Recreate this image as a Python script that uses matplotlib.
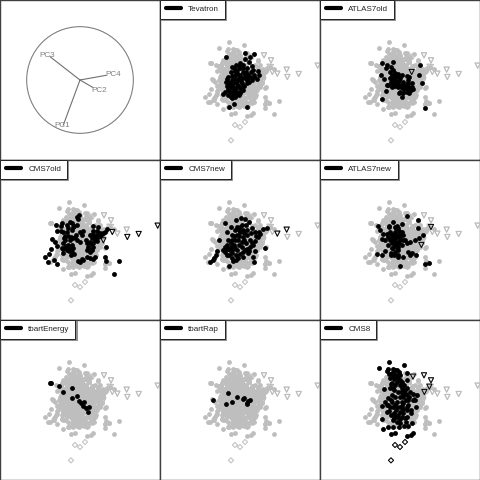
import matplotlib
matplotlib.use("Agg")
import matplotlib.pyplot as plt
from matplotlib.lines import Line2D

plt.rcParams['font.family'] = ['Liberation Sans', 'DejaVu Sans']

tevatron = [(198,172),(255,160),(281,161),(270,170),(255,176),(268,187),(276,197),(240,188),(228,195),(215,200),(250,195),(262,205),(280,210),(293,212),(298,224),(290,236),(275,240),(212,215),(205,230),(198,245),(200,258),(210,265),(196,275),(188,283),(205,285),(215,295),(225,290),(240,280),(250,270),(260,250),(245,250),(235,240),(225,225),(240,225),(230,210),(250,215),(265,225),(220,250),(230,260),(215,240),(245,235),(255,235),(235,255),(222,270),(212,280),(240,265),(225,238),(210,250),(207,320),(222,312),(260,320),(205,245),(218,275),(232,275),(228,285),(250,205),(240,205),(260,240),(270,232),(213,291),
            (222,205),(236,197),(258,215),(272,215),(283,225),(268,245),(252,258),(243,272),(228,248),(218,260),(208,272),(202,238),(216,228),(232,218),(244,242),(226,268),(236,286),(220,283),(254,226),(238,232),(212,258),(226,214),(246,262),(282,232),(204,266),(262,233)]
atlas7old = [(185,190),(200,194),(197,204),(218,186),(212,202),(183,225),(191,238),(210,215),(216,225),(225,225),(235,222),(245,225),(215,240),(200,255),(198,272),(212,255),(225,245),(235,245),(245,255),(225,258),(235,262),(250,265),(262,228),(265,240),(260,252),(250,245),(240,275),(252,268),(265,270),(275,260),(268,278),(262,275),(247,292),(237,280),(185,298),(215,260),(228,232),(240,235),(220,235),(215,248),(230,250),(263,248),(275,250),(296,226),(301,194),(305,248),(315,325),(210,235),(222,252),(238,255),(255,258),(248,280),(272,270),(218,210),(205,255),
             (232,228),(222,240),(238,240),(226,250),(244,260),(212,246),(232,256),(268,262),(258,265),(278,266),(266,232),(224,218)]
cms7old = [(135,292),(145,306),(153,266),(146,281),(170,312),(163,300),(168,194),(185,190),(170,212),(155,237),(164,245),(184,199),(183,213),(200,195),(202,216),(215,190),(210,185),(232,170),(236,165),(220,200),(215,210),(240,215),(250,212),(245,225),(205,228),(192,235),(210,240),(225,230),(190,250),(185,265),(195,262),(205,255),(215,255),(220,265),(200,270),(188,278),(207,272),(195,240),(228,225),(240,245),(258,240),(270,245),(285,240),(295,230),(280,250),(265,262),(278,260),(260,270),(270,275),(290,225),(300,228),(280,222),(278,212),(292,212),(305,222),(315,215),(322,208),(317,260),(315,292),(318,302),(357,303),(342,342),(284,290),(280,296),(260,292),(245,298),(235,302),(240,305),(222,282),(212,285),(216,265),(172,258),(295,200),(280,198),(270,225),(275,235),(232,195),(205,205),(190,215),(275,270),
           (198,258),(212,262),(190,268),(205,263),(218,235),(232,240),(212,230),(195,228),(222,198),(233,178),(282,232),(272,252),(290,242),(262,250),(268,268),(310,220),(300,218),(286,235),(250,300),(270,295),(215,276)]
cms7new = [(178,240),(170,274),(150,305),(158,300),(163,295),(168,285),(206,317),(195,190),(228,180),(243,175),(255,178),(268,185),(212,200),(230,200),(245,195),(258,195),(275,203),(285,215),(298,215),(310,208),(320,203),(295,230),(285,243),(314,264),(285,272),(280,292),(282,307),(265,280),(250,290),(235,295),(220,302),(215,295),(195,262),(205,240),(215,225),(225,210),(240,215),(250,230),(262,225),(270,240),(258,250),(245,260),(232,270),(222,255),(210,270),(195,275),(200,255),(215,280),(235,240),(245,245),(225,240),(232,225),(270,260),(262,268),(240,282),(255,270),(212,262),(208,285),(228,285),(200,215),(215,240),(280,255),(248,210),
           (205,268),(198,268),(218,268),(238,255),(252,240),(240,200),(262,210),(272,218),(288,228),(300,222),(276,248),(268,274),(248,275),(228,300),(212,250),(222,228),(238,228),(225,265),(252,218),(236,210),(190,270),(200,285)]
atlas7new = [(262,167),(293,181),(293,204),(218,186),(245,193),(175,198),(181,211),(207,197),(190,222),(185,238),(195,240),(210,215),(225,200),(235,205),(245,215),(225,215),(235,225),(215,230),(225,235),(240,240),(205,255),(215,250),(225,255),(235,260),(255,240),(270,245),(285,240),(298,233),(310,225),(195,272),(170,281),(185,286),(212,285),(225,275),(235,285),(250,290),(265,275),(270,285),(287,286),(240,319),(315,313),(328,310),(220,265),(235,270),(245,255),(230,245),(215,265),(210,240),(250,225),(262,250),(275,278),(240,225),
             (228,205),(232,198),(238,212),(222,225),(230,232),(218,240),(240,232),(212,222),(205,232),(200,222),(225,245),(238,250),(222,285),(248,240),(208,200),(212,278),(230,262),(235,290)]
tbart_energy = [(151,189),(153,189),(177,199),(188,215),(215,203),(217,235),(230,229),(238,243),(242,250),(250,258),(252,246),(257,263),(268,262),(265,277)]
tbart_rap = [(160,241),(205,219),(199,251),(216,246),(231,231),(248,237),(252,234),(265,242),(269,240),(261,252),(260,250)]
cms8 = [(206,127),(253,135),(178,144),(200,152),(205,148),(218,147),(225,150),(237,155),(215,160),(228,165),(240,165),(260,160),(210,175),(222,178),(235,175),(215,190),(225,195),(210,205),(192,207),(222,210),(240,195),(252,195),(262,180),(260,205),(250,215),(262,225),(270,215),(280,222),(290,225),(265,240),(285,240),(240,230),(245,245),(232,245),(215,225),(205,235),(195,245),(185,258),(200,255),(210,262),(225,255),(240,262),(250,268),(265,255),(272,270),(288,260),(272,280),(200,275),(212,285),(222,280),(235,285),(245,290),(255,295),(187,298),(220,300),(230,305),(240,310),(258,305),(275,308),(265,318),(252,318),(236,322),(218,320),(205,322),(190,328),(214,341),(224,338),(260,347),(272,344),(278,339),(235,215),(250,232),(225,232),(215,245),(262,270),(240,275),(228,270),(245,205),(255,210),(245,185),(232,185),(218,168),(240,180),(250,225),(245,258),(230,292),(250,280),(262,290),(212,240),(222,295),
        (212,192),(218,205),(258,222),(242,215),(268,232),(248,248),(258,240),(205,255),(218,262),(232,262),(208,272),(225,285),(278,240),(262,262),(240,298),(232,150),(220,158),(208,162)]
extra_grey = [(330,200),(342,208),(295,183),(275,205),(315,312),(328,310),(200,235),(182,240),(160,240),(166,292),(190,300),(300,240),(285,285),(280,300),(180,262),(152,188),(180,230),(190,275),(275,290),(300,262),(290,270),(175,270),
              (185,245),(190,285),(195,300),(205,305),(215,310),(230,318),(245,315),(262,312),(275,298),(285,275),(295,255),(305,235),(318,212),(308,228),(300,210),(285,195),(270,175),(258,170),(200,180),(190,180),(195,215),(185,205),(180,252),(200,292),(270,305),(255,305),(225,310),(240,300)]

low_tri = {
    'Tevatron': [],
    'ATLAS7old': [(275,216)],
    'CMS7old': [(473,197),(416,222),(382,231),(337,216),(310,241)],
    'CMS7new': [(380,209),(352,221)],
    'ATLAS7new': [(333,201),(304,255)],
    'tbartEnergy': [],
    'tbartRap': [],
    'CMS8': [(312,166),(333,181),(328,200),(313,216),(279,170),(285,230)],
}
diamonds = {'CMS8': [(225,375),(240,381),(255,366),(213,421)]}

names = ['Tevatron','ATLAS7old','CMS7old','CMS7new','ATLAS7new','tbartEnergy','tbartRap','CMS8']
series = dict(zip(names,[tevatron,atlas7old,cms7old,cms7new,atlas7new,tbart_energy,tbart_rap,cms8]))

biplot_labels = ['PC1','PC2','PC3','PC4']
biplot_tips = [(190,375),(278,262),(150,170),(318,226)]
biplot_text = [(186,377),(299,272),(143,167),(340,223)]

GREY = '#BEBEBE'
DOT = 12
TRI = 14
DIA = 7

def xy(points):
    return [p[0] for p in points], [p[1] for p in points]

fig = plt.figure(figsize=(4.8,4.8), dpi=100)
all_pts = [p for n in names for p in series[n]] + extra_grey
all_tri = [p for n in names for p in low_tri[n]] + [(312,166),(333,181),(380,209),(473,197),(416,222),(382,231),(337,216),(352,221),(310,241),(305,255)]
all_dia = diamonds['CMS8']

def make_axes(i):
    r, c = divmod(i, 3)
    ax = fig.add_axes([c/3, 1-(r+1)/3, 1/3, 1/3])
    ax.set_xlim(0,480); ax.set_ylim(480,0)
    ax.set_xticks([]); ax.set_yticks([])
    for s in ax.spines.values():
        s.set_linewidth(1.0); s.set_color('#404040')
    return ax

ax = make_axes(0)
ax.add_patch(plt.Circle((240,240),160,fill=False,ec='#808080',lw=0.8))
for tip,lab,pos in zip(biplot_tips,biplot_labels,biplot_text):
    ax.plot([240,tip[0]],[240,tip[1]],color='#707070',lw=0.8)
    ax.text(pos[0],pos[1],lab,color='#808080',fontsize=5.9,ha='center',va='center')

for i,n in enumerate(names,start=1):
    ax = make_axes(i)
    x,y = xy(all_pts)
    ax.scatter(x,y,s=DOT,c=GREY,linewidths=0,zorder=2)
    x,y = xy(all_tri)
    ax.scatter(x,y,s=TRI,marker='v',facecolors='none',edgecolors=GREY,linewidths=0.7,zorder=3)
    x,y = xy(all_dia)
    ax.scatter(x,y,s=DIA,marker='D',facecolors='none',edgecolors=GREY,linewidths=0.7,zorder=3)
    x,y = xy(series[n])
    ax.scatter(x,y,s=DOT,c='black',linewidths=0,zorder=4)
    if low_tri[n]:
        x,y = xy(low_tri[n])
        ax.scatter(x,y,s=TRI,marker='v',facecolors='none',edgecolors='black',linewidths=0.7,zorder=5)
    if n in diamonds:
        x,y = xy(diamonds[n])
        ax.scatter(x,y,s=DIA,marker='D',facecolors='none',edgecolors='black',linewidths=0.7,zorder=5)
    h = Line2D([],[],color='black',lw=3,solid_capstyle='round')
    leg = ax.legend([h],[n],loc='upper left',bbox_to_anchor=(0,1),borderaxespad=0,
                    fontsize=5.8,handlelength=1.9,handletextpad=0.9,borderpad=0.7,
                    fancybox=False,framealpha=1,edgecolor='#222222',labelcolor='#222222',
                    shadow={'ox':1.0,'oy':-1.0,'color':'#909090','alpha':1})
    leg.get_frame().set_linewidth(0.7)
    leg.set_zorder(10)

fig.savefig('out.png',dpi=100)
